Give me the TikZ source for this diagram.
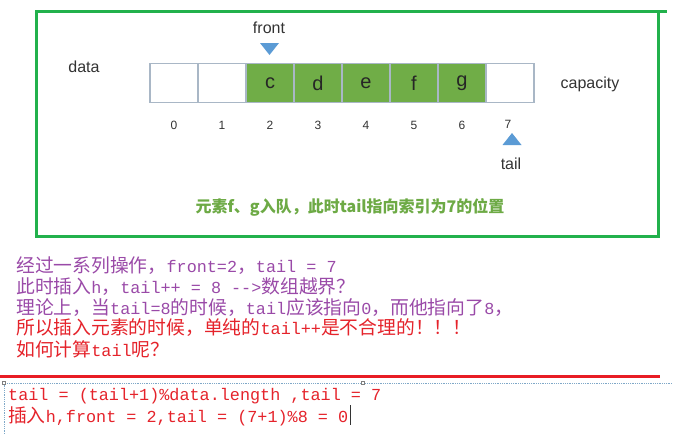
\documentclass[tikz,border=0pt]{standalone}
\usepackage{fontspec}
\setmainfont{Liberation Sans}
\newfontfamily\cjk{Noto Sans CJK SC}
\newfontfamily\mono{Liberation Mono}
\definecolor{frameG}{HTML}{22B14C}
\definecolor{cellG}{HTML}{70AD47}
\definecolor{capG}{HTML}{6DAA45}
\definecolor{triB}{HTML}{5B9BD5}
\definecolor{cellB}{HTML}{A9B7C6}
\definecolor{purp}{HTML}{9A4AA8}
\definecolor{redT}{HTML}{E5232B}
\definecolor{redL}{HTML}{E81C24}
\definecolor{dotB}{HTML}{7FA8C8}
\newcommand\en[1]{{\mono\fontsize{16.8}{18}\selectfont #1}}
\begin{document}
\begin{tikzpicture}[x=1pt,y=-1pt,
  cell/.style={draw=cellB, line width=1.2pt, minimum width=48pt, minimum height=39pt, inner sep=0pt, font=\fontsize{20}{21}\selectfont, text=black!85},
  full/.style={cell, fill=cellG},
  lbl/.style={font=\fontsize{16}{18}\selectfont, text=black!80, inner sep=0pt},
  idx/.style={font=\fontsize{12}{14}\selectfont, text=black!80, inner sep=0pt},
  txt/.style={anchor=west, inner sep=0pt, font=\cjk\fontsize{18.8}{20}\selectfont},
  tri/.style={fill=triB, draw=none},
  frame/.style={draw=frameG, line width=3pt},
]
\useasboundingbox (0,0) rectangle (673,434);
\fill[white] (0,0) rectangle (673,434);

% green frame
\draw[frame] (35,11) -- (667,11);
\draw[frame] (36,11) -- (36,236) -- (658,236) -- (658,11);

% cells
\node[cell] (c0) at (174,83) {};
\node[cell] (c1) at (222,83) {};
\node[full] (c2) at (270,83) {c};
\node[full] (c3) at (318,83) {d};
\node[full] (c4) at (366,83) {e};
\node[full] (c5) at (414,83) {f};
\node[full] (c6) at (462,83) {g};
\node[cell] (c7) at (510,83) {};

% indices
\foreach \i in {0,...,6} \node[idx] (i\i) at ({174+48*\i},125) {\i};
\node[idx] (i7) at (508,124) {7};

% labels
\node[lbl] (data) at (84,67) {data};
\node[lbl] (cap) at (590,84) {capacity};
\node[lbl] (front) at (269,28) {front};
\node[lbl] (tail) at (511,164) {tail};
\fill[tri] (260,43) -- (279,43) -- (269.5,55) -- cycle;
\fill[tri] (502.5,145) -- (521.5,145) -- (512,133) -- cycle;

% caption
\node[font=\cjk\bfseries\fontsize{16}{18}\selectfont, text=capG, inner sep=0pt] (caption) at (350,207) {元素f、g入队，此时tail指向索引为7的位置};

% explanation text
\node[txt, text=purp] (l1) at (16,266) {经过一系列操作，\en{front=2}，\en{tail = 7}};
\node[txt, text=purp] (l2) at (16,287) {此时插入\en{h}，\en{tail++ = 8 -{}-{}>}数组越界？};
\node[txt, text=purp] (l3) at (16,308) {理论上，当\en{tail=8}的时候，\en{tail}应该指向\en{0}，而他指向了\en{8}，};
\node[txt, text=redT] (l4) at (16,328) {所以插入元素的时候，单纯的\en{tail++}是不合理的！！！};
\node[txt, text=redT] (l5) at (16,349) {如何计算\en{tail}呢？};

% red separator
\draw[redL, line width=3pt] (0,376) -- (660,376);

% dotted text box
\draw[dotB, densely dotted, line width=0.8pt] (4,434) -- (4,383) -- (673,383);
\draw[gray, line width=0.5pt, fill=white] (2.5,381.5) rectangle (5.5,384.5);
\draw[gray, line width=0.5pt, fill=white] (361.5,381.5) rectangle (364.5,384.5);

\node[txt, text=redT] (f1) at (8,396) {\en{tail = (tail+1)\%data.length ,tail = 7}};
\node[txt, text=redT] (f2) at (8,416) {插入\en{h,front = 2,tail = (7+1)\%8 = 0}};
\coordinate (cur1) at (350,405);
\coordinate (cur2) at (350,425);
\draw[black!80, line width=1pt] (cur1) -- (cur2);
\end{tikzpicture}
\end{document}
